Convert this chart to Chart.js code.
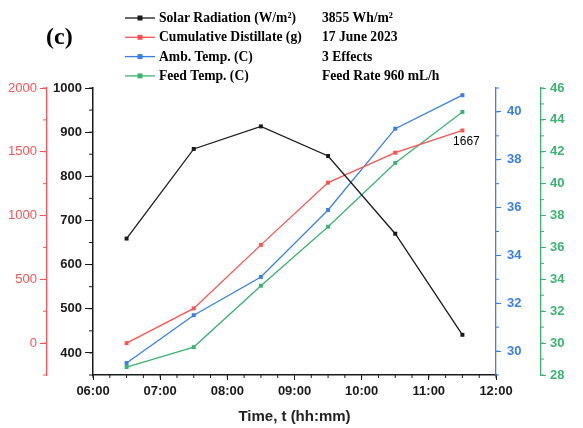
<!DOCTYPE html>
<html>
<head>
<meta charset="utf-8">
<script src="https://cdn.jsdelivr.net/npm/chart.js@4.4.1/dist/chart.umd.min.js"></script>
<style>
html,body{margin:0;padding:0;background:#fff;}
</style>
</head>
<body>
<canvas id="chart" width="583" height="428"></canvas>
<script>
// data
const timeLabels=["06:30","07:30","08:30","09:30","10:30","11:30"]
const solarRadiation=[659,862,913,846,670,441]
const cumulativeDistillate=[0,272,770,1258,1493,1667]
const ambTemp=[29.5,31.5,33.1,35.9,39.3,40.7]
const feedTemp=[28.5,29.75,33.6,37.3,41.3,44.5]

const timeTicks=["06:00","07:00","08:00","09:00","10:00","11:00","12:00"]
const solarTicks=[400,500,600,700,800,900,1000]
const distillateTicks=[0,500,1000,1500,2000]
const ambTicks=[30,32,34,36,38,40]
const feedTicks=[28,30,32,34,36,38,40,42,44,46]
const notes=["3855 Wh/m\u00B2","17 June 2023","3 Effects","Feed Rate 960 mL/h"]

const toHours=s=>{
    const p=s.split(":")
    return Number(p[0])+Number(p[1])/60
}
const points=vals=>timeLabels.map((t,i)=>({x:toHours(t),y:vals[i]}))
const pad2=n=>(n<10?"0":"")+n
const plain=v=>String(v)

const RED="#ff5252"
const BLUE="#3a7fe6"
const GREEN="#3cb371"
const BLACK="#1a1a1a"

const tickFont={family:"Liberation Sans, Arial",size:13,weight:"bold"}

// minor tick marks, drawn through each scale
const minorTicks={
    id:"minorTicks",
    afterDraw(chart){
        const ctx=chart.ctx
        const spec={
            x:{step:0.25,color:BLACK,len:3},
            ySolar:{step:50,color:BLACK,len:4},
            yDist:{step:250,color:RED,len:4},
            yAmb:{step:1,color:BLUE,len:3},
            yFeed:{step:1,color:GREEN,len:3},
        }
        ctx.save()
        ctx.lineWidth=1
        Object.keys(spec).forEach(id=>{
            const sc=chart.scales[id]
            const s=spec[id]
            ctx.strokeStyle=s.color
            ctx.beginPath()
            for(let v=sc.min;v<=sc.max+1e-9;v+=s.step){
                if(id==="x"){
                    const px=sc.getPixelForValue(v)
                    ctx.moveTo(px,sc.top)
                    ctx.lineTo(px,sc.top+s.len)
                }else{
                    const py=sc.getPixelForValue(v)
                    if(sc.position==="left"){
                        ctx.moveTo(sc.right,py)
                        ctx.lineTo(sc.right-s.len,py)
                    }else{
                        ctx.moveTo(sc.left,py)
                        ctx.lineTo(sc.left+s.len,py)
                    }
                }
            }
            ctx.stroke()
        })
        ctx.restore()
    }
}

// legend block on top, plus the (c) tag and end label
const topLegend={
    id:"topLegend",
    afterDraw(chart){
        const ctx=chart.ctx
        ctx.save()
        ctx.textBaseline="middle"
        ctx.fillStyle="#000"
        ctx.font='bold 24px "Liberation Serif"'
        ctx.fillText("(c)",46,38)
        ctx.font='bold 13.6px "Liberation Serif"'
        chart.data.datasets.forEach((ds,i)=>{
            const y=18+i*19.3
            ctx.strokeStyle=ds.borderColor
            ctx.lineWidth=1.3
            ctx.beginPath()
            ctx.moveTo(125,y)
            ctx.lineTo(155,y)
            ctx.stroke()
            ctx.fillStyle=ds.borderColor
            ctx.fillRect(137.5,y-2.5,5,5)
            ctx.fillStyle="#000"
            ctx.fillText(ds.label,159,y+0.5)
            ctx.fillText(notes[i],322,y+0.5)
        })
        // value label at last distillate point
        const meta=chart.getDatasetMeta(1)
        const last=meta.data[meta.data.length-1]
        ctx.font='12px "Liberation Sans"'
        ctx.textAlign="center"
        ctx.fillText(String(cumulativeDistillate[cumulativeDistillate.length-1]),last.x+4,last.y+11)
        ctx.restore()
    }
}

const fixTicks=list=>scale=>{scale.ticks=list.map(v=>({value:v}))}

const ctx=document.querySelector("#chart").getContext("2d")

const chart=new Chart(ctx,{
    type:"line",
    data:{
        datasets:[
            {label:"Solar Radiation (W/m\u00B2)",data:points(solarRadiation),yAxisID:"ySolar",
             borderColor:BLACK,backgroundColor:BLACK},
            {label:"Cumulative Distillate (g)",data:points(cumulativeDistillate),yAxisID:"yDist",
             borderColor:RED,backgroundColor:RED},
            {label:"Amb. Temp. (C)",data:points(ambTemp),yAxisID:"yAmb",
             borderColor:BLUE,backgroundColor:BLUE},
            {label:"Feed Temp. (C)",data:points(feedTemp),yAxisID:"yFeed",
             borderColor:GREEN,backgroundColor:GREEN},
        ],
    },
    options:{
        responsive:false,
        animation:false,
        devicePixelRatio:1,
        layout:{padding:{top:88,left:0,right:0,bottom:0}},
        elements:{
            line:{borderWidth:1.3,tension:0},
            point:{pointStyle:"rect",radius:2.8,borderWidth:0},
        },
        plugins:{legend:{display:false},tooltip:{enabled:false}},
        scales:{
            x:{
                type:"linear",position:"bottom",min:6,max:12,
                afterBuildTicks:fixTicks(timeTicks.map(toHours)),
                afterFit:s=>{s.height=53},
                grid:{drawOnChartArea:false,tickLength:5,tickColor:BLACK},
                border:{color:BLACK,width:1.5},
                ticks:{color:BLACK,font:tickFont,padding:4,maxRotation:0,
                    callback:v=>pad2(Math.floor(v))+":"+pad2(Math.round((v%1)*60))},
                title:{display:true,text:"Time, t (hh:mm)",color:"#222",
                    font:{family:"Liberation Sans, Arial",size:15,weight:"bold"},padding:{top:0,bottom:2}},
            },
            ySolar:{
                position:"left",weight:1,min:350,max:1000,
                afterBuildTicks:fixTicks(solarTicks),
                afterFit:s=>{s.width=46},
                grid:{drawOnChartArea:false,tickLength:8,tickColor:BLACK},
                border:{color:BLACK,width:1.5},
                ticks:{color:BLACK,font:tickFont,padding:3,callback:plain},
            },
            yDist:{
                position:"left",weight:2,min:-250,max:2000,
                afterBuildTicks:fixTicks(distillateTicks),
                afterFit:s=>{s.width=47},
                grid:{drawOnChartArea:false,tickLength:7,tickColor:RED},
                border:{color:RED,width:1.3},
                ticks:{color:RED,font:{family:"Liberation Sans, Arial",size:13},padding:3,callback:plain},
            },
            yAmb:{
                position:"right",weight:1,min:29,max:41,
                afterBuildTicks:fixTicks(ambTicks),
                afterFit:s=>{s.width=45},
                grid:{drawOnChartArea:false,tickLength:5,tickColor:BLUE},
                border:{color:BLUE,width:1.3},
                ticks:{color:BLUE,font:tickFont,padding:6,callback:plain},
            },
            yFeed:{
                position:"right",weight:2,min:28,max:46,
                afterBuildTicks:fixTicks(feedTicks),
                afterFit:s=>{s.width=42},
                grid:{drawOnChartArea:false,tickLength:5,tickColor:GREEN},
                border:{color:GREEN,width:1.3},
                ticks:{color:GREEN,font:tickFont,padding:4,callback:plain},
            },
        },
    },
    plugins:[minorTicks,topLegend],
})
</script>
</body>
</html>
